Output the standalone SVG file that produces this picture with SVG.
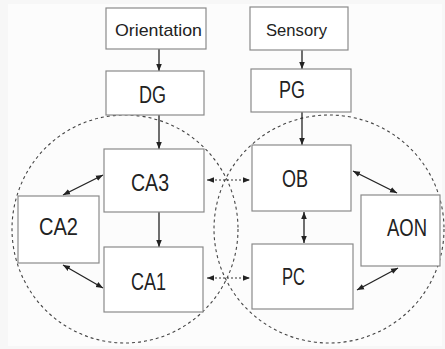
<svg xmlns="http://www.w3.org/2000/svg" width="445" height="349" viewBox="0 0 445 349">
  <defs>
    <marker id="ah" viewBox="0 0 10 10" refX="10" refY="5" markerWidth="7" markerHeight="7" orient="auto-start-reverse" markerUnits="userSpaceOnUse">
      <path d="M0,1 L10,5 L0,9 z" fill="#222"/>
    </marker>
    <style>
      .box { fill: #ffffff; stroke: #8a8a8a; stroke-width: 1.2; }
      .lbl { font-family: "Liberation Sans", Arial, sans-serif; fill: #222; text-anchor: middle; }
      .big { font-size: 23px; }
      .small { font-size: 17px; }
      .arr { stroke: #222; stroke-width: 1.3; fill: none; }
      .dot { stroke: #333; stroke-width: 1; stroke-dasharray: 2 2; fill: none; }
      .ring { stroke: #444; stroke-width: 1.1; stroke-dasharray: 3 3; fill: none; }
    </style>
  </defs>
  <rect width="445" height="349" fill="#f7f7f7"/>
  <rect x="8" y="4" width="434" height="342" fill="#fcfcfc"/>

  <!-- region outlines -->
  <g id="regions">
    <ellipse class="ring" cx="125" cy="229" rx="113" ry="114"/>
    <ellipse class="ring" cx="329" cy="229" rx="115" ry="114"/>
  </g>

  <g id="connectors">
    <line class="arr" x1="159" y1="49" x2="159" y2="71" marker-end="url(#ah)"/>
    <line class="arr" x1="302" y1="50" x2="302" y2="69" marker-end="url(#ah)"/>
    <line class="arr" x1="159" y1="115" x2="159" y2="149" marker-end="url(#ah)"/>
    <line class="arr" x1="302" y1="112" x2="302" y2="145" marker-end="url(#ah)"/>
    <line class="arr" x1="159" y1="212" x2="159" y2="247" marker-end="url(#ah)"/>
    <line class="arr" x1="304" y1="212" x2="304" y2="243" marker-start="url(#ah)" marker-end="url(#ah)"/>
    <line class="arr" x1="103" y1="175" x2="63" y2="195" marker-start="url(#ah)" marker-end="url(#ah)"/>
    <line class="arr" x1="63" y1="265" x2="103" y2="288" marker-start="url(#ah)" marker-end="url(#ah)"/>
    <line class="arr" x1="353" y1="171" x2="397" y2="193" marker-start="url(#ah)" marker-end="url(#ah)"/>
    <line class="arr" x1="357" y1="290" x2="398" y2="268" marker-start="url(#ah)" marker-end="url(#ah)"/>
    <line class="dot" x1="207" y1="180" x2="250" y2="180" marker-start="url(#ah)" marker-end="url(#ah)"/>
    <line class="dot" x1="207" y1="278" x2="250" y2="278" marker-start="url(#ah)" marker-end="url(#ah)"/>
  </g>

  <g id="orientation">
    <rect class="box" x="106" y="8" width="100" height="41"/>
    <text class="lbl small" x="158.5" y="36" textLength="87" lengthAdjust="spacingAndGlyphs">Orientation</text>
  </g>
  <g id="sensory">
    <rect class="box" x="250" y="7" width="98" height="43"/>
    <text class="lbl small" x="296.5" y="36" textLength="61" lengthAdjust="spacingAndGlyphs">Sensory</text>
  </g>
  <g id="dg">
    <rect class="box" x="106" y="71" width="98" height="44"/>
    <text class="lbl big" x="152.5" y="103" textLength="27" lengthAdjust="spacingAndGlyphs">DG</text>
  </g>
  <g id="pg">
    <rect class="box" x="251" y="69" width="100" height="43"/>
    <text class="lbl big" x="292" y="98" textLength="26" lengthAdjust="spacingAndGlyphs">PG</text>
  </g>
  <g id="ca3">
    <rect class="box" x="104" y="149" width="100" height="63"/>
    <text class="lbl big" x="150" y="191" textLength="38" lengthAdjust="spacingAndGlyphs">CA3</text>
  </g>
  <g id="ca2">
    <rect class="box" x="18" y="196" width="81" height="67"/>
    <text class="lbl big" x="58.5" y="235" textLength="39" lengthAdjust="spacingAndGlyphs">CA2</text>
  </g>
  <g id="ca1">
    <rect class="box" x="104" y="247" width="99" height="65"/>
    <text class="lbl big" x="148.5" y="290" textLength="35" lengthAdjust="spacingAndGlyphs">CA1</text>
  </g>
  <g id="ob">
    <rect class="box" x="252" y="145" width="99" height="66"/>
    <text class="lbl big" x="295" y="187" textLength="26" lengthAdjust="spacingAndGlyphs">OB</text>
  </g>
  <g id="pc">
    <rect class="box" x="252" y="244" width="101" height="65"/>
    <text class="lbl big" x="293.5" y="285" textLength="23" lengthAdjust="spacingAndGlyphs">PC</text>
  </g>
  <g id="aon">
    <rect class="box" x="361" y="195" width="79" height="71"/>
    <text class="lbl big" x="407" y="236" textLength="40" lengthAdjust="spacingAndGlyphs">AON</text>
  </g>
</svg>
